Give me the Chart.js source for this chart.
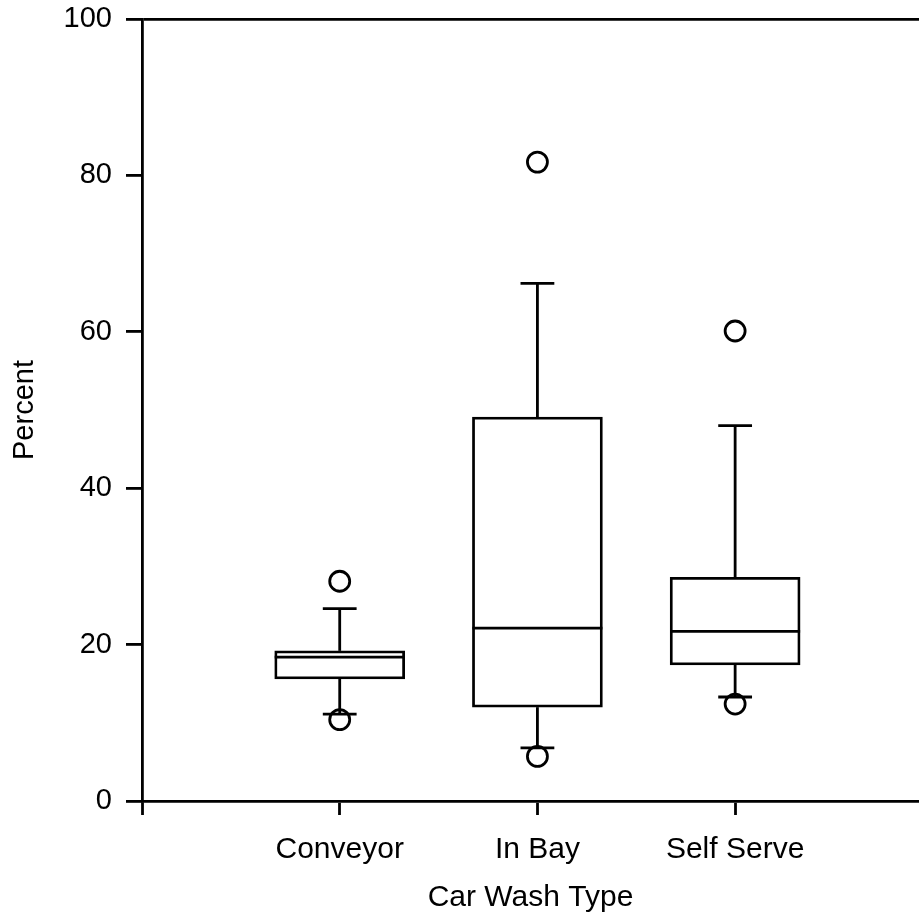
<!DOCTYPE html>
<html>
<head>
<meta charset="utf-8">
<script src="https://cdn.jsdelivr.net/npm/chart.js@4"></script>
<style>
  html, body { margin: 0; padding: 0; background: #fff; overflow: hidden; }
  canvas { display: block; }
</style>
</head>
<body>
<canvas id="boxChart" width="919" height="915"></canvas>
<script>
const categories = ['Conveyor', 'In Bay', 'Self Serve'];
const q1 = [15.6, 12.0, 17.4];
const median = [18.4, 22.1, 21.7];
const q3 = [19.2, 49.1, 28.6];
const whiskerLow = [11.1, 6.8, 13.3];
const whiskerHigh = [24.6, 66.2, 48.0];
const outliers = [[28.1, 10.4], [81.7, 5.7], [60.1, 12.4]];
const yTicks = [0, 20, 40, 60, 80, 100];
const xTicks = [0, 1, 2, 3];

const font = "'Liberation Sans', Arial, sans-serif";
const lw = 2.8;

// whiskers, caps and medians, placed with the chart's own scales
const whiskerPlugin = {
    id: 'whiskers',
    afterDatasetsDraw(chart) {
        const ctx = chart.ctx;
        const xs = chart.scales.x;
        const ys = chart.scales.y;
        const bars = chart.getDatasetMeta(0).data;
        ctx.save();
        ctx.strokeStyle = '#000';
        ctx.lineWidth = lw;
        categories.forEach((c, i) => {
            const bar = bars[i];
            const x = xs.getPixelForValue(i + 1);
            const capHalf = bar.width * 0.13;
            const line = (x1, y1, x2, y2) => {
                ctx.beginPath();
                ctx.moveTo(x1, y1);
                ctx.lineTo(x2, y2);
                ctx.stroke();
            };
            line(x, ys.getPixelForValue(q3[i]), x, ys.getPixelForValue(whiskerHigh[i]));
            line(x, ys.getPixelForValue(q1[i]), x, ys.getPixelForValue(whiskerLow[i]));
            line(x - capHalf, ys.getPixelForValue(whiskerHigh[i]), x + capHalf, ys.getPixelForValue(whiskerHigh[i]));
            line(x - capHalf, ys.getPixelForValue(whiskerLow[i]), x + capHalf, ys.getPixelForValue(whiskerLow[i]));
            line(bar.x - bar.width / 2, ys.getPixelForValue(median[i]), bar.x + bar.width / 2, ys.getPixelForValue(median[i]));
        });
        ctx.restore();
    }
};

const outlierPoints = [];
outliers.forEach((list, i) => list.forEach(v => outlierPoints.push({x: i + 1, y: v})));

const noPad = (scale) => {
    scale.paddingTop = 0;
    scale.paddingBottom = 0;
    scale.paddingLeft = 0;
    scale.paddingRight = 0;
};

const chart = new Chart(document.getElementById('boxChart').getContext('2d'), {
    type: 'bar',
    data: {
        datasets: [{
            label: 'box',
            data: categories.map((c, i) => ({x: i + 1, y: [q1[i], q3[i]]})),
            backgroundColor: '#fff',
            borderColor: '#000',
            borderWidth: lw,
            borderSkipped: false,
            barThickness: 130
        }, {
            type: 'scatter',
            label: 'outliers',
            data: outlierPoints,
            pointStyle: 'circle',
            pointRadius: 10,
            pointHoverRadius: 10,
            pointBorderWidth: lw,
            pointBorderColor: '#000',
            pointBackgroundColor: 'rgba(0,0,0,0)'
        }]
    },
    options: {
        responsive: false,
        animation: false,
        layout: { autoPadding: false, padding: { top: 19, right: 0, left: 0, bottom: 0 } },
        plugins: {
            legend: { display: false },
            tooltip: { enabled: false }
        },
        scales: {
            x: {
                type: 'linear',
                offset: false,
                min: 0,
                max: 3.93,
                afterBuildTicks: (scale) => { scale.ticks = xTicks.map(v => ({value: v})); },
                afterFit: (scale) => { scale.height = 114; noPad(scale); },
                ticks: {
                    color: '#000',
                    font: { family: font, size: 30 },
                    padding: 17,
                    maxRotation: 0,
                    autoSkip: false,
                    callback: (v) => categories[v - 1] || ''
                },
                grid: {
                    offset: false,
                    drawOnChartArea: false,
                    tickLength: 14,
                    tickColor: '#000',
                    tickWidth: lw
                },
                border: { color: '#000', width: lw },
                title: {
                    display: true,
                    text: 'Car Wash Type',
                    color: '#000',
                    font: { family: font, size: 30, lineHeight: 1 },
                    padding: { top: 4, bottom: 2 }
                }
            },
            y: {
                min: 0,
                max: 100,
                afterBuildTicks: (scale) => { scale.ticks = yTicks.map(v => ({value: v})); },
                afterFit: (scale) => { scale.width = 142; noPad(scale); },
                ticks: {
                    color: '#000',
                    font: { family: font, size: 29 },
                    padding: 14
                },
                grid: {
                    color: (c) => c.tick && c.tick.value === 100 ? '#000' : 'rgba(0,0,0,0)',
                    lineWidth: lw,
                    tickLength: 16,
                    tickColor: '#000',
                    tickWidth: lw
                },
                border: { color: '#000', width: lw },
                title: {
                    display: true,
                    text: 'Percent',
                    color: '#000',
                    font: { family: font, size: 29 },
                    padding: { top: 8, bottom: 4 }
                }
            }
        }
    },
    plugins: [whiskerPlugin]
});
</script>
</body>
</html>
